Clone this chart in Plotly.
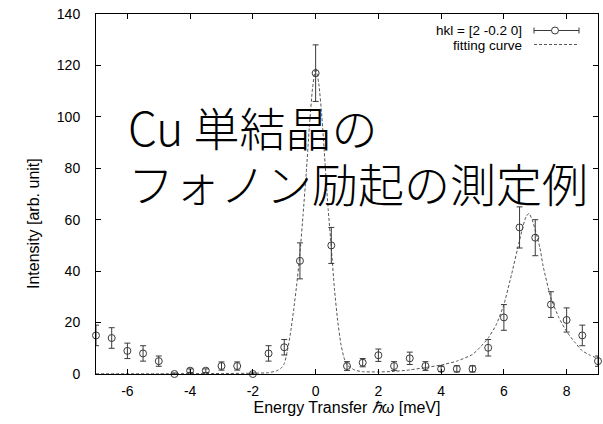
import plotly.graph_objects as go

# measured data points (energy transfer, intensity, error)
energy = [-7.0, -6.5, -6.0, -5.5, -5.0, -4.5, -4.0, -3.5, -3.0, -2.5, -2.0,
          -1.5, -1.0, -0.5, 0.0, 0.5, 1.0, 1.5, 2.0, 2.5, 3.0, 3.5, 4.0,
          4.5, 5.0, 5.5, 6.0, 6.5, 7.0, 7.5, 8.0, 8.5, 9.0]
intensity = [15, 14, 9, 8, 5, 0, 1.3, 1.3, 3.1, 3.1, 0,
             8, 10.4, 44, 117, 50, 3.1, 4.4, 7.3, 3.1, 6.1, 3.1, 2,
             2, 2, 10.2, 22, 57, 53, 27, 21, 15, 5]
error = [4, 4, 3, 3, 2, 0.4, 0.7, 0.7, 1.6, 1.6, 0.4,
         3, 3, 7, 11, 7, 1.7, 1.6, 2.4, 1.7, 2.4, 1.7, 1,
         1.2, 1.2, 3.2, 5, 8, 7, 5, 4.7, 4, 2]

# fitting curve
fit_x = [-7.0, -5.0, -3.0, -2.0, -1.5, -1.25, -1.1, -1.0, -0.9, -0.8, -0.7,
         -0.6, -0.5, -0.4, -0.3, -0.2, -0.1, 0.0, 0.1, 0.2, 0.3, 0.4, 0.5,
         0.6, 0.7, 0.8, 0.9, 1.0, 1.25, 1.5, 2.0, 2.5, 3.0, 3.5, 4.0, 4.5,
         5.0, 5.25, 5.5, 5.75, 6.0, 6.25, 6.5, 6.6, 6.7, 6.8, 6.9, 7.0,
         7.15, 7.25, 7.5, 7.75, 8.0, 8.25, 8.5, 8.75, 9.0]
fit_y = [0.1, 0.1, 0.2, 0.3, 0.5, 1.2, 2.3, 4, 9, 16, 25,
         35, 47, 62, 78, 96, 111, 119, 113, 100, 82, 64, 49,
         33, 21, 12, 6.5, 3.5, 1.5, 0.9, 0.8, 1.0, 1.6, 2.5, 3.5, 5,
         7.6, 10.5, 14, 19, 27, 39, 52, 57, 61, 62.5, 60, 56,
         49, 42, 29.5, 22, 16.5, 12.5, 9, 7.3, 6]

x_ticks = [-6, -4, -2, 0, 2, 4, 6, 8]
y_ticks = [0, 20, 40, 60, 80, 100, 120, 140]

legend_labels = ["hkl = [2 -0.2 0]", "fitting curve"]
title_lines = ["Cu 単結晶の", "フォノン励起の測定例"]
x_title = "Energy Transfer <i>ℏω</i> [meV]"
y_title = "Intensity [arb. unit]"

FONT = "Liberation Sans, Arial, sans-serif"
PT_COLOR = "#3a3a3a"
FIT_COLOR = "#555555"

fig = go.Figure()
fig.add_trace(go.Scatter(
    x=fit_x, y=fit_y, mode="lines",
    line=dict(color=FIT_COLOR, width=1, dash="3px,2px", shape="spline", smoothing=0.5),
    showlegend=False, hoverinfo="skip"))
fig.add_trace(go.Scatter(
    x=energy, y=intensity, mode="markers",
    marker=dict(symbol="circle-open", size=7, color=PT_COLOR, line=dict(width=1, color=PT_COLOR)),
    error_y=dict(type="data", array=error, visible=True, color=PT_COLOR, thickness=1, width=3),
    showlegend=False, cliponaxis=False))

L, R, T, B = 96, 598, 14, 374
W, H = R - L, B - T

def px(x):
    return (x - L) / W

def py(y):
    return 1 - (y - T) / H

shapes = []
# legend: error-bar sample
ly1 = 30.5
shapes.append(dict(type="line", xref="paper", yref="paper", x0=px(534), x1=px(579), y0=py(ly1), y1=py(ly1),
                   line=dict(color=PT_COLOR, width=1)))
for xx in (534, 579):
    shapes.append(dict(type="line", xref="paper", yref="paper", x0=px(xx), x1=px(xx), y0=py(ly1 - 3), y1=py(ly1 + 3),
                       line=dict(color=PT_COLOR, width=1)))
shapes.append(dict(type="circle", xref="paper", yref="paper", x0=px(551.5), x1=px(558.5), y0=py(ly1 - 3.5), y1=py(ly1 + 3.5),
                   line=dict(color=PT_COLOR, width=1), fillcolor="white"))
ly2 = 44.5
shapes.append(dict(type="line", xref="paper", yref="paper", x0=px(534), x1=px(579), y0=py(ly2), y1=py(ly2),
                   line=dict(color=FIT_COLOR, width=1, dash="3px,2px")))

legend_text = "<br>".join("<span style='font-size:13.5px'>%s</span>" % t for t in legend_labels)
title_text = "<br>".join("<span style='font-size:46px'>%s</span>" % t for t in title_lines)

annotations = [
    dict(text=legend_text, xref="paper", yref="paper", x=px(524), y=py(37.5), xanchor="right", yanchor="middle",
         align="right", showarrow=False, font=dict(family=FONT, size=11.6, color="black")),
    dict(text=title_text, xref="paper", yref="paper", x=px(126), y=py(154.5), xanchor="left", yanchor="middle",
         align="left", showarrow=False, font=dict(family="Noto Sans CJK JP", size=43, color="black", weight=300)),
    dict(text=y_title, xref="paper", yref="paper", x=px(33), y=py(224), xanchor="center", yanchor="middle",
         textangle=-90, showarrow=False, font=dict(family=FONT, size=16, color="black")),
]

axis_common = dict(showline=True, linecolor="black", linewidth=1, mirror="ticks", ticks="inside",
                   ticklen=5, tickcolor="black", showgrid=False, zeroline=False,
                   tickfont=dict(family=FONT, size=14, color="black"))
fig.update_xaxes(range=[-7, 9], tickvals=x_ticks, ticktext=[str(v) for v in x_ticks], ticklabelstandoff=4,
                 title=dict(text=x_title, font=dict(family=FONT, size=16, color="black"), standoff=3),
                 **axis_common)
fig.update_yaxes(range=[0, 140], tickvals=y_ticks, ticktext=[str(v) for v in y_ticks], ticklabelstandoff=12,
                 **axis_common)
fig.update_layout(width=603, height=424, margin=dict(l=L, r=603 - R, t=T, b=424 - B),
                  plot_bgcolor="white", paper_bgcolor="white", shapes=shapes, annotations=annotations)
fig.write_html("out.html")
